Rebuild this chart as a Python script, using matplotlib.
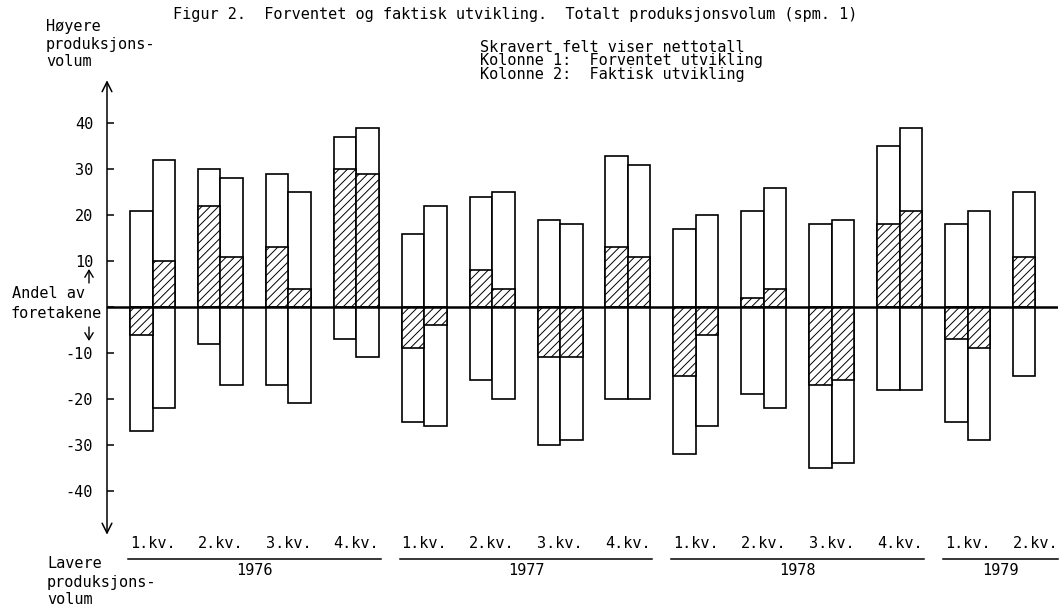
import matplotlib
matplotlib.use('Agg')
import matplotlib.pyplot as plt
import numpy as np

# Data lest av figuren (andel foretak i prosent)
kvartaler = ['1.kv.', '2.kv.', '3.kv.', '4.kv.',
             '1.kv.', '2.kv.', '3.kv.', '4.kv.',
             '1.kv.', '2.kv.', '3.kv.', '4.kv.',
             '1.kv.', '2.kv.']
aar = ['1976', '1977', '1978', '1979']
kvartal_per_aar = [4, 4, 4, 2]

# Kolonne 1: forventet utvikling
forv_hoyere = [21, 30, 29, 37, 16, 24, 19, 33, 17, 21, 18, 35, 18, 25]
forv_lavere = [-27, -8, -17, -7, -25, -16, -30, -20, -32, -19, -35, -18, -25, -15]
forv_netto = [-6, 22, 13, 30, -9, 8, -11, 13, -15, 2, -17, 18, -7, 11]

# Kolonne 2: faktisk utvikling (mangler for 2. kv. 1979)
fakt_hoyere = [32, 28, 25, 39, 22, 25, 18, 31, 20, 26, 19, 39, 21]
fakt_lavere = [-22, -17, -21, -11, -26, -20, -29, -20, -26, -22, -34, -18, -29]
fakt_netto = [10, 11, 4, 29, -4, 4, -11, 11, -6, 4, -16, 21, -9]

y_ticks = [-40, -30, -20, -10, 0, 10, 20, 30, 40]
y_labels = ['-40', '-30', '-20', '-10', '', '10', '20', '30', '40']

plt.rcParams['font.family'] = ['DejaVu Sans Mono']
plt.rcParams['hatch.linewidth'] = 0.7
plt.rcParams['hatch.color'] = 'black'

W, H = 1062, 611
fig = plt.figure(figsize=(W / 100, H / 100), dpi=100)
fig.patch.set_facecolor('white')

# aksen plasseres i pikselkoordinater
ax = fig.add_axes([107 / W, (H - 536.5) / H, 951 / W, 459 / H])
ax.set_ylim(-50, 50)
ax.set_xlim(-0.339, 13.663)
bw = 0.331
fs = 11
lw = 1.2

for s in ax.spines.values():
    s.set_visible(False)
ax.set_xticks([])
ax.set_yticks(y_ticks)
ax.set_yticklabels(y_labels, fontsize=fs)
ax.tick_params(axis='y', direction='in', length=5, width=1.1, pad=10, colors='black')

# tegner kolonnene
def tegn_kolonne(x, hoy, lav, netto):
    ax.bar(x, np.array(hoy) - np.array(lav), bottom=lav, width=bw, align='edge',
           facecolor='white', edgecolor='black', linewidth=lw, zorder=2)
    ax.bar(x, netto, width=bw, align='edge', facecolor='white', edgecolor='black',
           hatch='////', linewidth=lw, zorder=3)

x1 = np.arange(len(forv_hoyere))
x2 = np.arange(len(fakt_hoyere)) + bw
tegn_kolonne(x1, forv_hoyere, forv_lavere, forv_netto)
tegn_kolonne(x2, fakt_hoyere, fakt_lavere, fakt_netto)

ax.axhline(0, color='black', linewidth=1.8, zorder=4)

# y-aksen med piler
ax.annotate('', xy=(-0.339, 49.4), xytext=(-0.339, -49.6),
            arrowprops=dict(arrowstyle='<->,head_length=0.7,head_width=0.35',
                            lw=1.1, color='black', shrinkA=0, shrinkB=0),
            annotation_clip=False)

# kvartal- og aarstekster
for i, k in enumerate(kvartaler):
    ax.text(i + bw, -51.6, k, ha='center', va='center', fontsize=fs, clip_on=False)

start = 0
for a, n in zip(aar, kvartal_per_aar):
    slutt = start + n - 1
    x0 = start - 0.03
    xs = slutt + 2 * bw + 0.03
    if a == '1979':
        xs = 13.663
    ax.plot([x0, xs], [-54.9, -54.9], color='black', lw=1.1, clip_on=False)
    ax.text((x0 + xs) / 2, -57.4, a, ha='center', va='center', fontsize=fs, clip_on=False)
    start += n

def px(x, y):
    return x / W, 1 - y / H

fig.text(*px(173, 15), 'Figur 2.  Forventet og faktisk utvikling.  Totalt produksjonsvolum (spm. 1)',
         fontsize=fs, va='center', ha='left')
for y, t in zip([47, 61, 75], ['Skravert felt viser nettotall',
                               'Kolonne 1:  Forventet utvikling',
                               'Kolonne 2:  Faktisk utvikling']):
    fig.text(*px(480, y), t, fontsize=fs, va='center', ha='left')

for y, t in zip([26, 44, 62], ['Høyere', 'produksjons-', 'volum']):
    fig.text(*px(46, y), t, fontsize=fs, va='center', ha='left')
for y, t in zip([563, 582, 600], ['Lavere', 'produksjons-', 'volum']):
    fig.text(*px(47, y), t, fontsize=fs, va='center', ha='left')

fig.text(*px(12, 293), 'Andel av', fontsize=fs, va='center', ha='left')
fig.text(*px(10, 313), 'foretakene', fontsize=fs, va='center', ha='left')

# smaa piler over og under "Andel av foretakene"
pil = dict(arrowstyle='->,head_length=0.5,head_width=0.3', lw=1.0, color='black',
           shrinkA=0, shrinkB=0)
fig.add_artist(plt.Annotation('', xy=px(89, 269), xytext=px(89, 283),
                              xycoords='figure fraction', arrowprops=pil))
fig.add_artist(plt.Annotation('', xy=px(89, 341), xytext=px(89, 327),
                              xycoords='figure fraction', arrowprops=pil))

plt.savefig('out.png', dpi=100, facecolor='white')
